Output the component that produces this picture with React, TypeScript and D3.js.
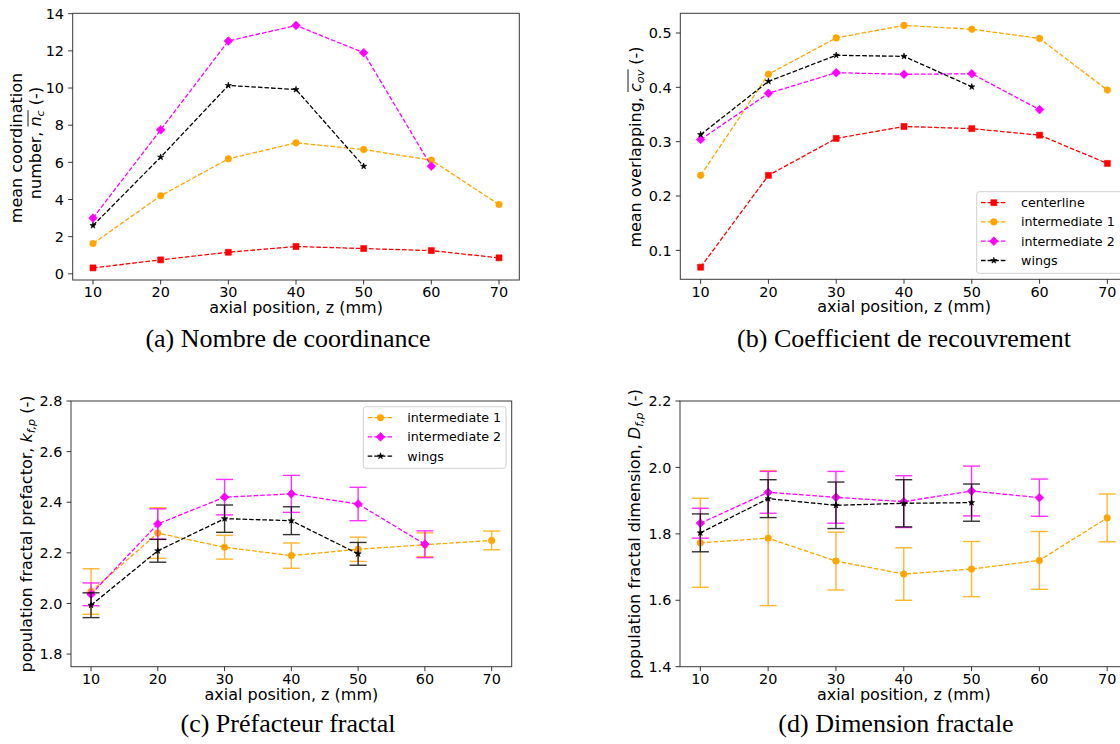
import React, { useLayoutEffect, useRef, useState } from 'react';
import * as d3 from 'd3';

// ---------- data ----------
const zPositions = [10, 20, 30, 40, 50, 60, 70];
const zTicks = [10, 20, 30, 40, 50, 60, 70];

// (a) mean coordination number
const ncCenterline = [0.32, 0.75, 1.16, 1.47, 1.36, 1.25, 0.86];
const ncIntermediate1 = [1.63, 4.2, 6.19, 7.05, 6.69, 6.12, 3.73];
const ncIntermediate2 = [3.0, 7.75, 12.53, 13.37, 11.9, 5.79];
const ncWings = [2.6, 6.28, 10.14, 9.92, 5.79];
const ncTicks = [0, 2, 4, 6, 8, 10, 12, 14];

// (b) mean overlapping coefficient
const covCenterline = [0.069, 0.238, 0.306, 0.328, 0.324, 0.312, 0.26];
const covIntermediate1 = [0.238, 0.424, 0.491, 0.514, 0.507, 0.49, 0.395];
const covIntermediate2 = [0.304, 0.389, 0.427, 0.424, 0.425, 0.359];
const covWings = [0.313, 0.411, 0.459, 0.457, 0.401];
const covTicks = [0.1, 0.2, 0.3, 0.4, 0.5];

// (c) population fractal prefactor
const kfIntermediate1 = [2.047, 2.278, 2.222, 2.189, 2.214, 2.232, 2.249];
const kfIntermediate1Err = [0.09, 0.1, 0.047, 0.05, 0.048, 0.047, 0.037];
const kfIntermediate2 = [2.036, 2.314, 2.42, 2.433, 2.393, 2.234];
const kfIntermediate2Err = [0.045, 0.06, 0.07, 0.073, 0.066, 0.053];
const kfWings = [1.993, 2.208, 2.335, 2.327, 2.196];
const kfWingsErr = [0.049, 0.045, 0.054, 0.055, 0.045];
const kfTicks = [1.8, 2.0, 2.2, 2.4, 2.6, 2.8];
const kfLimits = [1.75, 2.8];

// (d) population fractal dimension
const dfIntermediate1 = [1.773, 1.787, 1.718, 1.679, 1.694, 1.72, 1.848];
const dfIntermediate1Err = [0.134, 0.203, 0.087, 0.079, 0.083, 0.087, 0.072];
const dfIntermediate2 = [1.832, 1.925, 1.91, 1.897, 1.929, 1.909];
const dfIntermediate2Err = [0.045, 0.063, 0.078, 0.078, 0.075, 0.056];
const dfWings = [1.803, 1.906, 1.886, 1.892, 1.894];
const dfWingsErr = [0.057, 0.057, 0.07, 0.071, 0.056];
const dfTicks = [1.4, 1.6, 1.8, 2.0, 2.2];
const dfLimits = [1.4, 2.2];

const RED = '#ff0000';
const ORANGE = '#ffa500';
const MAGENTA = '#ff00ff';
const BLACK = '#000000';

const FONT = 'DejaVu Sans';
const SERIF = 'Liberation Serif';

type MarkerKind = 'square' | 'circle' | 'diamond' | 'star';
type Series = {
  label: string;
  values: number[];
  errors?: number[];
  color: string;
  marker: MarkerKind;
};
type Seg = { t: string; it?: boolean; sub?: boolean; ol?: boolean };

function padded(arrs: number[][]): [number, number] {
  const all = arrs.flat();
  const lo = d3.min(all) as number;
  const hi = d3.max(all) as number;
  const m = (hi - lo) * 0.05;
  return [lo - m, hi + m];
}

const symSquare = d3.symbol(d3.symbolSquare, 36)() as string;
const symCircle = d3.symbol(d3.symbolCircle, 34)() as string;
const symDiamond = d3.symbol(d3.symbolSquare, 38)() as string;
const symStar = d3.symbol(d3.symbolStar, 12)() as string;

function Marker({ kind, x, y, color }: { kind: MarkerKind; x: number; y: number; color: string }) {
  const d = kind === 'square' ? symSquare : kind === 'circle' ? symCircle : kind === 'diamond' ? symDiamond : symStar;
  const rot = kind === 'diamond' ? ' rotate(45)' : '';
  return <path d={d} transform={`translate(${x},${y})${rot}`} fill={color} stroke={color} strokeWidth={0.6} />;
}

function LabelLine({ bx, cy, segs, fs }: { bx: number; cy: number; segs: Seg[]; fs: number }) {
  const ref = useRef<SVGTextElement>(null);
  const [ol, setOl] = useState<[number, number] | null>(null);
  useLayoutEffect(() => {
    const el = ref.current;
    if (!el) return;
    const nodes = el.querySelectorAll('tspan[data-ol="1"]');
    if (!nodes.length) return;
    let x0 = Infinity;
    let x1 = -Infinity;
    nodes.forEach((n) => {
      const b = (n as SVGGraphicsElement).getBBox();
      x0 = Math.min(x0, b.x);
      x1 = Math.max(x1, b.x + b.width);
    });
    setOl([x0, x1]);
  }, []);
  let shift = 0;
  return (
    <g transform={`translate(${bx},${cy}) rotate(-90)`}>
      <text ref={ref} x={0} y={0} textAnchor="middle" fontSize={fs} fontFamily={FONT} fill="#000">
        {segs.map((s, i) => {
          const target = s.sub ? fs * 0.22 : 0;
          const dy = target - shift;
          shift = target;
          return (
            <tspan
              key={i}
              dy={dy !== 0 ? dy : undefined}
              fontStyle={s.it ? 'italic' : undefined}
              fontSize={s.sub ? fs * 0.7 : undefined}
              data-ol={s.ol ? '1' : undefined}
            >
              {s.t}
            </tspan>
          );
        })}
      </text>
      {ol && <line x1={ol[0]} x2={ol[1]} y1={-fs * 0.78} y2={-fs * 0.78} stroke="#000" strokeWidth={0.9} />}
    </g>
  );
}

type LegendSpec = { x: number; y: number; w: number; h: number; rowY: number[]; lx1: number; lx2: number; tx: number };

type PanelProps = {
  frame: { left: number; right: number; top: number; bottom: number };
  yDomain: [number, number];
  yTicks: number[];
  yFmt: (v: number) => string;
  series: Series[];
  legend?: LegendSpec;
  yLabel: { bx: number; cy: number; segs: Seg[] }[];
  caption: { text: string; cx: number; by: number };
};

function Panel({ frame, yDomain, yTicks, yFmt, series, legend, yLabel, caption }: PanelProps) {
  const { left, right, top, bottom } = frame;
  const xPad = (70 - 10) * 0.05;
  const x = d3.scaleLinear().domain([10 - xPad, 70 + xPad]).range([left, right]);
  const y = d3.scaleLinear().domain(yDomain).range([bottom, top]);
  const line = d3
    .line<[number, number]>()
    .x((d) => x(d[0]))
    .y((d) => y(d[1]));
  const tickLen = 4.5;
  const tickFs = 14.4;
  const capHalf = 8.5;
  return (
    <g>
      {/* spines */}
      <rect x={left} y={top} width={right - left} height={bottom - top} fill="none" stroke="#3a3a3a" strokeWidth={1} />
      {/* x ticks */}
      {zTicks.map((t) => (
        <g key={`xt${t}`}>
          <line x1={x(t)} x2={x(t)} y1={bottom} y2={bottom + tickLen} stroke="#222" strokeWidth={0.9} />
          <text x={x(t)} y={bottom + 17.3} textAnchor="middle" fontSize={tickFs} fontFamily={FONT} fill="#000">
            {t}
          </text>
        </g>
      ))}
      {/* y ticks */}
      {yTicks.map((t) => (
        <g key={`yt${t}`}>
          <line x1={left - tickLen} x2={left} y1={y(t)} y2={y(t)} stroke="#222" strokeWidth={0.9} />
          <text
            x={left - 8.7}
            y={y(t)}
            dy="0.36em"
            textAnchor="end"
            fontSize={tickFs}
            fontFamily={FONT}
            fill="#000"
          >
            {yFmt(t)}
          </text>
        </g>
      ))}
      {/* x label */}
      <text x={(left + right) / 2} y={bottom + 33} textAnchor="middle" fontSize={16} fontFamily={FONT} fill="#000">
        axial position, z (mm)
      </text>
      {/* y label */}
      {yLabel.map((l, i) => (
        <LabelLine key={i} bx={l.bx} cy={l.cy} segs={l.segs} fs={16} />
      ))}
      {/* series */}
      {series.map((s) => {
        const pts: [number, number][] = s.values.map((v, i) => [zPositions[i], v]);
        return (
          <g key={s.label}>
            {s.errors &&
              s.values.map((v, i) => {
                const e = s.errors![i];
                const cx = x(zPositions[i]);
                return (
                  <g key={`e${i}`} stroke={s.color} strokeWidth={1.4} opacity={0.8}>
                    <line x1={cx} x2={cx} y1={y(v - e)} y2={y(v + e)} />
                    <line x1={cx - capHalf} x2={cx + capHalf} y1={y(v - e)} y2={y(v - e)} />
                    <line x1={cx - capHalf} x2={cx + capHalf} y1={y(v + e)} y2={y(v + e)} />
                  </g>
                );
              })}
            <path d={line(pts) as string} fill="none" stroke={s.color} strokeWidth={1.3} strokeDasharray="4.6,2" />
            {pts.map((p, i) => (
              <Marker key={i} kind={s.marker} x={x(p[0])} y={y(p[1])} color={s.color} />
            ))}
          </g>
        );
      })}
      {/* legend */}
      {legend && (
        <g>
          <rect
            x={legend.x}
            y={legend.y}
            width={legend.w}
            height={legend.h}
            rx={2.5}
            fill="#fff"
            fillOpacity={0.85}
            stroke="#d0d0d0"
            strokeWidth={1}
          />
          {series.map((s, i) => (
            <g key={`lg${s.label}`}>
              <line
                x1={legend.lx1}
                x2={legend.lx2}
                y1={legend.rowY[i]}
                y2={legend.rowY[i]}
                stroke={s.color}
                strokeWidth={1.3}
                strokeDasharray="4.6,2"
              />
              <Marker kind={s.marker} x={(legend.lx1 + legend.lx2) / 2} y={legend.rowY[i]} color={s.color} />
              <text x={legend.tx} y={legend.rowY[i]} dy="0.36em" fontSize={12.7} fontFamily={FONT} fill="#000">
                {s.label}
              </text>
            </g>
          ))}
        </g>
      )}
      {/* caption */}
      <text x={caption.cx} y={caption.by} textAnchor="middle" fontSize={26} fontFamily={SERIF} fill="#000">
        {caption.text}
      </text>
    </g>
  );
}

const fmtInt = d3.format('d');
const fmt1 = d3.format('.1f');

export default function App() {
  const seriesA: Series[] = [
    { label: 'centerline', values: ncCenterline, color: RED, marker: 'square' },
    { label: 'intermediate 1', values: ncIntermediate1, color: ORANGE, marker: 'circle' },
    { label: 'intermediate 2', values: ncIntermediate2, color: MAGENTA, marker: 'diamond' },
    { label: 'wings', values: ncWings, color: BLACK, marker: 'star' },
  ];
  const seriesB: Series[] = [
    { label: 'centerline', values: covCenterline, color: RED, marker: 'square' },
    { label: 'intermediate 1', values: covIntermediate1, color: ORANGE, marker: 'circle' },
    { label: 'intermediate 2', values: covIntermediate2, color: MAGENTA, marker: 'diamond' },
    { label: 'wings', values: covWings, color: BLACK, marker: 'star' },
  ];
  const seriesC: Series[] = [
    { label: 'intermediate 1', values: kfIntermediate1, errors: kfIntermediate1Err, color: ORANGE, marker: 'circle' },
    { label: 'intermediate 2', values: kfIntermediate2, errors: kfIntermediate2Err, color: MAGENTA, marker: 'diamond' },
    { label: 'wings', values: kfWings, errors: kfWingsErr, color: BLACK, marker: 'star' },
  ];
  const seriesD: Series[] = [
    { label: 'intermediate 1', values: dfIntermediate1, errors: dfIntermediate1Err, color: ORANGE, marker: 'circle' },
    { label: 'intermediate 2', values: dfIntermediate2, errors: dfIntermediate2Err, color: MAGENTA, marker: 'diamond' },
    { label: 'wings', values: dfWings, errors: dfWingsErr, color: BLACK, marker: 'star' },
  ];

  return (
    <svg
      width={1120}
      height={744}
      viewBox="0 0 1120 744"
      style={{ position: 'absolute', left: 0, top: 0, background: '#fff' }}
    >
      <rect x={0} y={0} width={1120} height={744} fill="#fff" />
      <Panel
        frame={{ left: 72.7, right: 519.3, top: 13.3, bottom: 280 }}
        yDomain={padded([ncCenterline, ncIntermediate1, ncIntermediate2, ncWings])}
        yTicks={ncTicks}
        yFmt={fmtInt}
        series={seriesA}
        yLabel={[
          { bx: 21.5, cy: 148, segs: [{ t: 'mean coordination' }] },
          {
            bx: 40.5,
            cy: 143,
            segs: [{ t: 'number, ' }, { t: 'n', it: true, ol: true }, { t: 'c', it: true, sub: true, ol: true }, { t: ' (-)' }],
          },
        ]}
        caption={{ text: '(a) Nombre de coordinance', cx: 288, by: 347 }}
      />
      <Panel
        frame={{ left: 680.3, right: 1127.7, top: 13.3, bottom: 279.3 }}
        yDomain={padded([covCenterline, covIntermediate1, covIntermediate2, covWings])}
        yTicks={covTicks}
        yFmt={fmt1}
        series={seriesB}
        legend={{ x: 976.7, y: 191.7, w: 150, h: 81.6, rowY: [202.7, 221.9, 241.2, 260.5], lx1: 981, lx2: 1006.7, tx: 1021 }}
        yLabel={[
          {
            bx: 640.5,
            cy: 147,
            segs: [{ t: 'mean overlapping, ' }, { t: 'c', it: true, ol: true }, { t: 'ov', it: true, sub: true, ol: true }, { t: ' (-)' }],
          },
        ]}
        caption={{ text: '(b) Coefficient de recouvrement', cx: 904, by: 347 }}
      />
      <Panel
        frame={{ left: 71, right: 511.7, top: 401, bottom: 666.7 }}
        yDomain={kfLimits as [number, number]}
        yTicks={kfTicks}
        yFmt={fmt1}
        series={seriesC}
        legend={{ x: 363.3, y: 406.7, w: 142.7, h: 61.6, rowY: [417.7, 436.9, 456.1], lx1: 367.7, lx2: 393.3, tx: 407.3 }}
        yLabel={[
          {
            bx: 31.5,
            cy: 534,
            segs: [{ t: 'population fractal prefactor, ' }, { t: 'k', it: true }, { t: 'f,p', it: true, sub: true }, { t: ' (-)' }],
          },
        ]}
        caption={{ text: '(c) Préfacteur fractal', cx: 288, by: 732 }}
      />
      <Panel
        frame={{ left: 680, right: 1127.5, top: 401, bottom: 666.7 }}
        yDomain={dfLimits as [number, number]}
        yTicks={dfTicks}
        yFmt={fmt1}
        series={seriesD}
        yLabel={[
          {
            bx: 639.5,
            cy: 534,
            segs: [{ t: 'population fractal dimension, ' }, { t: 'D', it: true }, { t: 'f,p', it: true, sub: true }, { t: ' (-)' }],
          },
        ]}
        caption={{ text: '(d) Dimension fractale', cx: 896, by: 732 }}
      />
    </svg>
  );
}
